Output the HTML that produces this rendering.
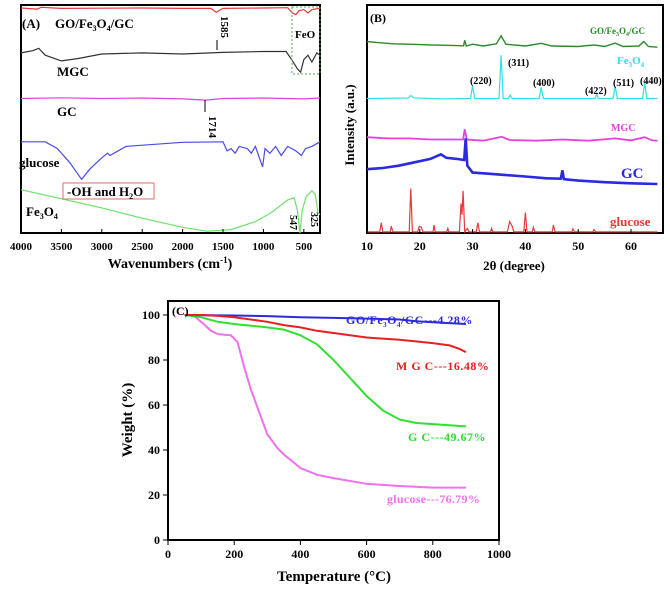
<!DOCTYPE html>
<html><head><meta charset="utf-8"><style>
body{margin:0;background:#fff}
svg text{font-family:"Liberation Serif",serif;font-weight:bold}
</style></head><body>
<svg id="fig" width="670" height="588" viewBox="0 0 670 588" xmlns="http://www.w3.org/2000/svg">
<g id="pa"></g>
<g id="pb"></g>
<g id="pc"></g>
</svg>
<script>
// ===== Panel A data (wavenumber, relative transmittance) =====
const ftirGO=[[4000,98.7],[3800,98.2],[3750,99],[3500,98.5],[3000,98.6],[2500,98.7],[2000,98.5],[1650,98.5],[1585,96.8],[1500,98.5],[1000,98.7],[700,98.8],[640,96.5],[600,95.8],[560,97.5],[500,98],[450,96.5],[400,98],[300,98.6]];
const ftirMGC=[[4000,79],[3850,80],[3780,81],[3700,78],[3500,75.5],[3300,76.5],[3000,78.5],[2500,79],[2000,78.5],[1500,79.2],[1000,79.6],[720,79.6],[650,76],[580,72],[540,70.5],[500,76],[450,78],[400,75],[340,79],[300,78]];
const ftirGC=[[4000,59],[3500,59.3],[3000,59],[2500,59.2],[2000,58.8],[1714,58.3],[1500,59],[1000,59.2],[500,58.8],[300,59.2]];
const ftirGlu=[[4000,40],[3700,40],[3550,37],[3400,31],[3300,26],[3250,23.5],[3150,28],[3000,33],[2930,35],[2900,34],[2700,38],[2000,39.8],[1500,40],[1450,36],[1400,37],[1350,35],[1300,38],[1200,37],[1150,35],[1100,38],[1050,33],[1010,29],[980,37],[920,35],[850,38],[780,34],[700,38],[600,36],[530,34],[480,37],[400,38],[300,40]];
const ftirFe=[[4000,19],[3500,15],[3000,11],[2500,6.5],[2000,2.5],[1700,0.8],[1400,1.5],[1100,5],[900,9],[700,14.5],[620,15.5],[580,10],[547,0],[520,10],[470,16],[400,18.5],[360,17],[325,9],[300,8]];
const ftirTicks=[4000,3500,3000,2500,2000,1500,1000,500];
// ===== Panel B data (2theta, relative intensity) =====
const xrdGO=[[10,84],[12,83.5],[15,83],[18,82.8],[22,82.5],[26,82.3],[28.3,82.1],[28.5,84.5],[28.8,82],[30,82.8],[32,82],[34.5,83],[35.4,86.5],[36.3,82.8],[40,82],[43,83.2],[45,82],[50,81.8],[53,82.5],[55,81.8],[57,83.3],[58.5,81.8],[61.5,82],[62.4,84],[63.3,81.8],[65,81.5]];
const xrdFe=[[10,59],[17.8,59.2],[18.3,60.3],[18.8,59.3],[24,58.8],[29.6,59],[30,64.5],[30.4,59],[35,59],[35.4,78],[35.8,59],[36.8,59],[37.1,60.5],[37.5,59],[42.6,59],[43,63.8],[43.4,59],[53.2,59],[53.5,61],[53.8,59],[56.6,59],[57,64.3],[57.4,59],[62.2,59],[62.6,66],[63,59],[65,59]];
const xrdMGC=[[10,42],[14,41.5],[18,41.5],[22,41],[28.2,41],[28.5,45.5],[28.9,41],[32,40.5],[35.5,42.2],[37,40.8],[42,40.5],[47,41],[52,40.5],[57,41.5],[60,40.6],[62.6,42],[64,40.6],[65,40.5]];
const xrdGC=[[10,28],[13,28.5],[16,29.5],[19,31],[22,32.5],[24,34.5],[25,33],[27,32.5],[28.4,32],[28.7,41.5],[29,29.5],[30,26.5],[33,26],[36,25.5],[40,24.8],[44,24],[46.7,23.8],[47,27.5],[47.3,23.6],[50,23],[55,22.3],[60,21.8],[65,21.5]];
const xrdGlu=[[10,0.5],[12.4,0.5],[12.7,4.5],[13,0.5],[14.4,0.5],[14.6,3],[14.9,0.5],[18,0.5],[18.3,19.5],[18.6,0.5],[19.6,0.5],[19.9,3],[20.3,2.5],[20.6,0.5],[22.5,0.5],[22.7,3.5],[22.9,0.5],[25.1,0.5],[25.3,2],[25.5,0.5],[27.5,0.5],[27.8,13],[28,8],[28.2,18.5],[28.5,0.5],[29,2],[29.3,0.5],[30.7,0.5],[31,4.5],[31.3,0.5],[33.4,0.5],[33.6,2],[33.8,0.5],[36.6,0.5],[37,5],[37.5,3],[37.8,0.5],[39.7,0.5],[40,9],[40.3,0.5],[41.3,0.5],[41.5,2.5],[41.8,0.5],[45.1,0.5],[45.3,3.5],[45.6,0.5],[48.8,0.5],[49,1.8],[49.3,0.5],[52.8,0.5],[53,1.5],[53.3,0.5],[65,0.5]];
const xrdTicks=[10,20,30,40,50,60];
// ===== Panel C data (temperature, weight %) =====
const tgaGO=[[50,100],[200,99.8],[300,99.5],[400,99],[500,98.7],[600,98.4],[700,98],[750,97.2],[800,96.8],[900,96]];
const tgaMGC=[[50,100],[100,100],[150,99.6],[200,99],[250,98],[300,97],[350,95.5],[400,94.5],[450,93],[500,92],[600,90],[700,89],[800,87.5],[850,86.5],[880,85],[900,83.5]];
const tgaGC=[[50,100],[100,99],[150,97],[200,96],[300,94.5],[350,93.5],[400,91],[450,87],[500,80],[550,72],[600,64],[650,57.5],[700,53.5],[750,52],[800,51.5],[900,50.5]];
const tgaGlu=[[50,100],[75,100],[100,97],[130,93],[150,91.5],[190,91],[210,88],[230,77],[250,67],[280,55],[300,47],[330,41],[350,38],[400,32],[450,29],[500,27.5],[600,25],[700,24],[800,23.3],[900,23.3]];
const tgaXTicks=[0,200,400,600,800,1000];
const tgaYTicks=[0,20,40,60,80,100];

const NS="http://www.w3.org/2000/svg";
function mk(parent,tag,attrs,txt){const e=document.createElementNS(NS,tag);for(const k in attrs)e.setAttribute(k,attrs[k]);if(txt!==undefined)e.textContent=txt;parent.appendChild(e);return e;}
function path(pts,sx,sy){return pts.map((p,i)=>(i?'L':'M')+sx(p[0]).toFixed(1)+','+sy(p[1]).toFixed(1)).join(' ');}

// ---------- Panel A ----------
const A=document.getElementById('pa');
const axA=w=>21+(4000-w)*(299/3700);
const ayA=v=>233-v*2.28;
let f=mk(A,'rect',{x:21,y:5,width:299,height:228,fill:'none',stroke:'#000','stroke-width':2});

[[ftirGO,'#e8383d','ftir-go-fe3o4-gc'],[ftirMGC,'#333','ftir-mgc'],[ftirGC,'#e040e0','ftir-gc'],[ftirGlu,'#4a4ae8','ftir-glucose'],[ftirFe,'#6ee06e','ftir-fe3o4']].forEach(s=>{
 const p=mk(A,'path',{d:path(s[0],axA,ayA),fill:'none',stroke:s[1],'stroke-width':1.2});
 
});
ftirTicks.forEach(t=>{
 const l=mk(A,'line',{x1:axA(t),x2:axA(t),y1:233,y2:229,stroke:'#000'});
 
 const tx=mk(A,'text',{x:axA(t),y:250,'font-size':11,'text-anchor':'middle'},String(t));
 
});
A.insertAdjacentHTML('beforeend',`
<text x="170" y="268" font-size="14" text-anchor="middle">Wavenumbers (cm<tspan font-size="9" dy="-5">-1</tspan><tspan dy="5">)</tspan></text>
<text x="22" y="28" font-size="13">(A)</text>
<text x="55" y="28" font-size="13">GO/Fe<tspan font-size="8" dy="3">3</tspan><tspan dy="-3">O</tspan><tspan font-size="8" dy="3">4</tspan><tspan dy="-3">/GC</tspan></text>
<text x="57" y="76" font-size="13">MGC</text>
<text x="57" y="116" font-size="13">GC</text>
<text x="19" y="167" font-size="13">glucose</text>
<text x="26" y="216" font-size="13">Fe<tspan font-size="8" dy="3">3</tspan><tspan dy="-3">O</tspan><tspan font-size="8" dy="3">4</tspan></text>
<rect x="63" y="183" width="91" height="16" fill="none" stroke="#e86a6a" stroke-width="1"/>
<text x="67" y="196" font-size="13">-OH and H<tspan font-size="8" dy="3">2</tspan><tspan dy="-3">O</tspan></text>
<rect x="292" y="7" width="28" height="67" fill="none" stroke="#5a5" stroke-width="1" stroke-dasharray="2,2"/>
<text x="295" y="38" font-size="11">FeO</text>
<text transform="translate(221,16) rotate(90)" font-size="11">1585</text>
<line x1="217" y1="40" x2="217" y2="50" stroke="#000"/>
<text transform="translate(209,116) rotate(90)" font-size="11">1714</text>
<line x1="205" y1="100" x2="205" y2="112" stroke="#000"/>
<text transform="translate(290,215) rotate(90)" font-size="10">547</text>
<text transform="translate(311,212) rotate(90)" font-size="10">325</text>
`);

// ---------- Panel B ----------
const B=document.getElementById('pb');
const axB=d=>367+(d-10)*5.28;
const ayB=v=>233-v*2.28;
f=mk(B,'rect',{x:367,y:5,width:296,height:228,fill:'none',stroke:'#000','stroke-width':2});

[[xrdGO,'#2a8a2a','xrd-go-fe3o4-gc',1.4],[xrdFe,'#30e0e8','xrd-fe3o4',1.2],[xrdMGC,'#e840e0','xrd-mgc',1.8],[xrdGC,'#2a2ae0','xrd-gc',2.6],[xrdGlu,'#e83a3a','xrd-glucose',1.2]].forEach(s=>{
 const p=mk(B,'path',{d:path(s[0],axB,ayB),fill:'none',stroke:s[1],'stroke-width':s[3]});
 
});
xrdTicks.forEach(t=>{
 const l=mk(B,'line',{x1:axB(t),x2:axB(t),y1:233,y2:229,stroke:'#000'});
 
 const tx=mk(B,'text',{x:axB(t),y:250,'font-size':12,'text-anchor':'middle'},String(t));
 
});
B.insertAdjacentHTML('beforeend',`
<text x="514" y="270" font-size="13" text-anchor="middle">2θ (degree)</text>
<text transform="translate(354,125) rotate(-90)" font-size="13" text-anchor="middle">Intensity (a.u.)</text>
<text x="370" y="22" font-size="12">(B)</text>
<text x="590" y="34" font-size="9" fill="#2a8a2a" font-family="Liberation Sans">GO/Fe<tspan font-size="6" dy="2">3</tspan><tspan dy="-2">O</tspan><tspan font-size="6" dy="2">4</tspan><tspan dy="-2">/GC</tspan></text>
<text x="617" y="64" font-size="11" fill="#30e0e8" font-family="Liberation Sans">Fe<tspan font-size="7" dy="3">3</tspan><tspan dy="-3">O</tspan><tspan font-size="7" dy="3">4</tspan></text>
<text x="508" y="66" font-size="10">(311)</text>
<text x="470" y="84" font-size="10">(220)</text>
<text x="533" y="86" font-size="10">(400)</text>
<text x="585" y="94" font-size="10">(422)</text>
<text x="613" y="86" font-size="10">(511)</text>
<text x="640" y="84" font-size="10">(440)</text>
<text x="611" y="131" font-size="10" fill="#e840e0" font-family="Liberation Sans">MGC</text>
<text x="621" y="178" font-size="15" fill="#2a2ae0" font-weight="normal">GC</text>
<text x="610" y="226" font-size="13" fill="#e83a3a">glucose</text>
`);

// ---------- Panel C ----------
const C=document.getElementById('pc');
const axC=t=>168+t*0.331;
const ayC=v=>540-v*2.25;
f=mk(C,'rect',{x:168,y:301,width:331,height:239,fill:'none',stroke:'#000','stroke-width':2});

tgaXTicks.forEach(t=>{
 const l=mk(C,'line',{x1:axC(t),x2:axC(t),y1:540,y2:545,stroke:'#000'});
 
 const tx=mk(C,'text',{x:axC(t),y:558,'font-size':12,'text-anchor':'middle'},String(t));
 
});
tgaYTicks.forEach(t=>{
 const l=mk(C,'line',{x1:163,x2:168,y1:ayC(t),y2:ayC(t),stroke:'#000'});
 
 const tx=mk(C,'text',{x:160,y:ayC(t)+4,'font-size':12,'text-anchor':'end'},String(t));
 
});
[[tgaGlu,'#f070f0','tga-glucose'],[tgaGC,'#30e030','tga-gc'],[tgaGO,'#2a2ae0','tga-go-fe3o4-gc'],[tgaMGC,'#e82020','tga-mgc']].forEach(s=>{
 const p=mk(C,'path',{d:path(s[0],axC,ayC),fill:'none',stroke:s[1],'stroke-width':2});
 
});
C.insertAdjacentHTML('beforeend',`
<text x="334" y="581" font-size="15" text-anchor="middle">Temperature (°C)</text>
<text transform="translate(132,420) rotate(-90)" font-size="15" text-anchor="middle">Weight (%)</text>
<text x="172" y="315" font-size="12">(C)</text>
<text x="346" y="324" font-size="12" fill="#2a2ae0" letter-spacing="0.5">GO/Fe<tspan font-size="7" dy="3">3</tspan><tspan dy="-3">O</tspan><tspan font-size="7" dy="3">4</tspan><tspan dy="-3">/GC---4.28%</tspan></text>
<text x="396" y="370" font-size="12" fill="#e82020" letter-spacing="0.5">M G C---16.48%</text>
<text x="408" y="441" font-size="12" fill="#30e030" letter-spacing="0.5">G C---49.67%</text>
<text x="387" y="503" font-size="12" fill="#f070f0" letter-spacing="0.3">glucose---76.79%</text>
`);
</script>
</body></html>
